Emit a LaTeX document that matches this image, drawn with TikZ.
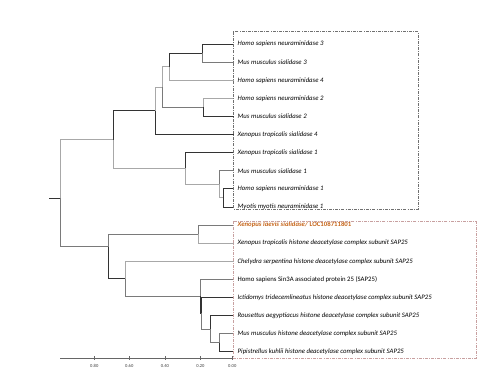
\documentclass[tikz,border=0pt]{standalone}
\usepackage{fontspec}
\setmainfont{Carlito}
\definecolor{brlight}{HTML}{A8A8A8}
\definecolor{brmid}{HTML}{7A7A7A}
\definecolor{brdark}{HTML}{333333}
\definecolor{hiorange}{HTML}{C5651A}
\definecolor{boxgray}{HTML}{707070}
\definecolor{boxpink}{HTML}{C8A0A0}
\begin{document}
\begin{tikzpicture}[x=1bp,y=-1bp,
  lt/.style={draw=brlight,line width=0.75bp},
  md/.style={draw=brmid,line width=0.75bp},
  dk/.style={draw=brdark,line width=0.75bp},
  lab/.style={anchor=west,inner sep=0pt,xshift=3.5bp,font=\fontsize{6.8}{7}\selectfont\itshape,text=black},
  labup/.style={lab,font=\fontsize{6.8}{7}\selectfont\upshape},
  tick/.style={draw=black!60,line width=0.5bp},
  ticklab/.style={inner sep=0pt,font=\fontsize{4.6}{5}\selectfont,text=black!75},
  grpbox/.style={line width=0.6bp,dash pattern=on 3bp off 1.2bp on 0.8bp off 1.2bp}]
\useasboundingbox (0,0) rectangle (500,383);
% leaves
\foreach \i/\n in {1/l1,2/l2,3/l3,4/l4,5/l5,6/l6,7/l7,8/l8,9/l9,10/l10,11/l11,12/l12,13/l13,14/l14,15/l15,16/l16,17/l17,18/l18}
  \coordinate (\n) at (234,{44+(\i-1)*18.1});
% internal nodes
\coordinate (R) at (60,198.3);
\coordinate (Rs) at (49.3,198.3);
\coordinate (A) at (113,139.6);
\coordinate (B) at (155,110.75);
\coordinate (C) at (162,87);
\coordinate (D) at (169,66.6);
\coordinate (E) at (202.7,53.05);
\coordinate (F) at (203.3,107.35);
\coordinate (G) at (185.7,168.45);
\coordinate (H) at (219,184.3);
\coordinate (I) at (223.3,197.85);
\coordinate (J) at (108.7,246.7);
\coordinate (K) at (198.7,234.05);
\coordinate (L) at (125.3,278.75);
\coordinate (M) at (200.3,296.3);
\coordinate (N) at (201.3,313.25);
\coordinate (O) at (210.7,329.1);
\coordinate (P) at (219.3,342.65);
% branches
\draw[dk] (Rs) -- (R);
\draw[lt] (R) |- (A);
\draw[md] (R) |- (J);
\draw[dk] (A) |- (B);
\draw[lt] (A) |- (G);
\draw[lt] (B) |- (C);
\draw[dk] (B) |- (l6);
\draw[lt] (C) |- (D);
\draw[md] (C) |- (F);
\draw[dk] (D) |- (E);
\draw[lt] (D) |- (l3);
\draw[dk] (E) |- (l1);
\draw[md] (E) |- (l2);
\draw[lt] (F) |- (l4);
\draw[dk] (F) |- (l5);
\draw[dk] (G) |- (l7);
\draw[lt] (G) |- (H);
\draw[md] (H) |- (l8);
\draw[lt] (H) |- (I);
\draw[dk] (I) |- (l9);
\draw[dk] (I) |- (l10);
\draw[md] (J) |- (K);
\draw[dk] (J) |- (L);
\draw[md] (K) |- (l11);
\draw[lt] (K) |- (l12);
\draw[lt] (L) |- (l13);
\draw[md] (L) |- (M);
\draw[md] (M) |- (l14);
\draw[dk] (M) |- (N);
\draw[dk] (N) |- (l15);
\draw[md] (N) |- (O);
\draw[dk] (O) |- (l16);
\draw[md] (O) |- (P);
\draw[md] (P) |- (l17);
\draw[dk] (P) |- (l18);
% labels
\node[lab] (t1) at (l1) {Homo sapiens neuraminidase 3};
\node[lab] (t2) at (l2) {Mus musculus sialidase 3};
\node[lab] (t3) at (l3) {Homo sapiens neuraminidase 4};
\node[lab] (t4) at (l4) {Homo sapiens neuraminidase 2};
\node[lab] (t5) at (l5) {Mus musculus sialidase 2};
\node[lab] (t6) at (l6) {Xenopus tropicalis sialidase 4};
\node[lab] (t7) at (l7) {Xenopus tropicalis sialidase 1};
\node[lab] (t8) at (l8) {Mus musculus sialidase 1};
\node[lab] (t9) at (l9) {Homo sapiens neuraminidase 1};
\node[lab] (t10) at (l10) {Myotis myotis neuraminidase 1};
\node[lab,text=hiorange] (t11) at (l11) {\bfseries Xenopus laevis sialidase/ \upshape LOC108711801};
\node[lab] (t12) at (l12) {Xenopus tropicalis histone deacetylase complex subunit SAP25};
\node[lab] (t13) at (l13) {Chelydra serpentina histone deacetylase complex subunit SAP25};
\node[labup] (t14) at (l14) {Homo sapiens Sin3A associated protein 25 (SAP25)};
\node[lab] (t15) at (l15) {Ictidomys tridecemlineatus histone deacetylase complex subunit SAP25};
\node[lab] (t16) at (l16) {Rousettus aegyptiacus histone deacetylase complex subunit SAP25};
\node[lab] (t17) at (l17) {Mus musculus histone deacetylase complex subunit SAP25};
\node[lab] (t18) at (l18) {Pipistrellus kuhlii histone deacetylase complex subunit SAP25};
% group boxes
\draw[grpbox,draw=boxgray] (233.3,31.7) rectangle (418.3,208.8);
\draw[grpbox,draw=boxpink] (233.3,221.2) rectangle (476,358.3);
% axis
\coordinate (ax0) at (60,358.3);
\coordinate (ax1) at (232.3,358.3);
\draw[tick] (ax0) -- (ax1);
\foreach \x/\v in {94.3/0.80,129.3/0.60,165/0.40,200.5/0.20,232.3/0.00}{
  \draw[tick] (\x,356.3) -- (\x,360.3);
  \node[ticklab] at (\x,365.7) {\v};
}
\end{tikzpicture}
\end{document}
